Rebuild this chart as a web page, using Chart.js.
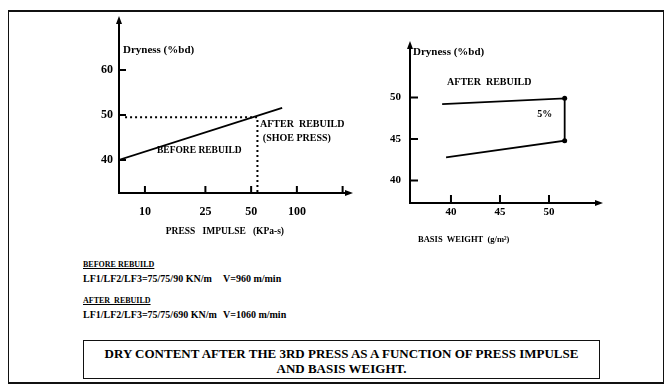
<!DOCTYPE html>
<html>
<head>
<meta charset="utf-8">
<script src="https://cdn.jsdelivr.net/npm/chart.js@4.4.0/dist/chart.umd.min.js"></script>
<style>
  body { margin:0; background:#fff; width:668px; height:391px; overflow:hidden; position:relative;
         font-family:"Liberation Serif", "DejaVu Serif", serif; font-weight:bold; color:#000; }
  #frame { position:absolute; left:8px; top:10px; width:656px; height:374px; box-sizing:border-box;
           border:1.5px solid #111; border-top-width:2px; border-bottom-width:2.5px; }
  #leftBox { position:absolute; left:0; top:0; width:370px; height:250px; }
  #rightBox { position:absolute; left:370px; top:0; width:298px; height:260px; }
  .note { position:absolute; left:83px; white-space:pre; }
  .hdr { font-size:8px; line-height:8px; text-decoration:underline; }
  .cond { font-size:10px; line-height:10px; }
  .speed { position:absolute; left:140px; }
  #caption { position:absolute; left:83px; top:340px; width:517px; height:39px; box-sizing:border-box;
             border:1.5px solid #111; padding-top:5px; text-align:center; font-size:13px; line-height:15px; }
</style>
</head>
<body>
<div id="frame"></div>
<div id="leftBox"><canvas id="leftChart" width="370" height="250"></canvas></div>
<div id="rightBox"><canvas id="rightChart" width="298" height="260"></canvas></div>

<div class="note hdr" style="top:261px">BEFORE REBUILD</div>
<div class="note cond" style="top:274px">LF1/LF2/LF3=75/75/90 KN/m<span class="speed">V=960 m/min</span></div>
<div class="note hdr" style="top:297px">AFTER  REBUILD</div>
<div class="note cond" style="top:310px">LF1/LF2/LF3=75/75/690 KN/m<span class="speed">V=1060 m/min</span></div>

<div id="caption">DRY CONTENT  AFTER  THE  3RD PRESS AS A FUNCTION OF  PRESS IMPULSE<br>AND  BASIS  WEIGHT.</div>

<script>
// Left chart: dryness against press impulse (log axis)
var impulseTicks = [10, 25, 50, 100, 200];
var impulseLabels = ['10', '25', '50', '100', ''];
var drynessTicksLeft = [40, 50, 60];
var lineImpulse = [6.75, 80];
var lineDryness = [40, 51.6];
var refImpulse = [7.4, 55, 55];
var refDryness = [49.5, 49.5, 32.7];

// Right chart: dryness against basis weight, after rebuild
var weightTicks = [40, 45, 50];
var drynessTicksRight = [40, 45, 50];
var basisWeight = [39.1, 51.6, 51.6, 39.5];
var drynessAfter = [49.2, 49.9, 44.8, 42.8];

var serif = '"Liberation Serif", "DejaVu Serif", serif';

function toPoints(xs, ys) {
  return xs.map(function(x, i) { return {x: x, y: ys[i]}; });
}

// Hand drawn look: ticks inside the axes, arrow heads, free text
var sketchPlugin = {
  id: 'sketch',
  afterDraw: function(chart, args, opts) {
    var ctx = chart.ctx, a = chart.chartArea;
    var xs = chart.scales.x, ys = chart.scales.y;
    ctx.save();
    ctx.strokeStyle = '#000';
    ctx.fillStyle = '#000';
    ctx.lineWidth = 2;
    ctx.beginPath();
    xs.ticks.forEach(function(t) {
      var px = xs.getPixelForValue(t.value);
      ctx.moveTo(px, a.bottom);
      ctx.lineTo(px, a.bottom - opts.tick);
    });
    ys.ticks.forEach(function(t) {
      var py = ys.getPixelForValue(t.value);
      ctx.moveTo(a.left, py);
      ctx.lineTo(a.left + opts.tick, py);
    });
    ctx.stroke();

    ctx.beginPath();
    ctx.moveTo(a.left, a.top - 4);
    ctx.lineTo(a.left - 3, a.top + 4);
    ctx.lineTo(a.left + 3, a.top + 4);
    ctx.closePath();
    ctx.moveTo(a.right + 5, a.bottom);
    ctx.lineTo(a.right - 3, a.bottom - 3);
    ctx.lineTo(a.right - 3, a.bottom + 3);
    ctx.closePath();
    ctx.fill();

    ctx.textBaseline = 'middle';
    opts.notes.forEach(function(n) {
      ctx.font = 'bold ' + n.size + 'px ' + serif;
      ctx.textAlign = n.align || 'left';
      ctx.fillText(n.text, xs.getPixelForValue(n.x), ys.getPixelForValue(n.y));
    });
    ctx.restore();
  }
};

function fixedTicks(values) {
  return function(scale) {
    scale.ticks = values.map(function(v) { return {value: v}; });
  };
}

function axisOptions(extra) {
  var base = {
    grid: { display: false, drawTicks: false },
    border: { display: true, color: '#000', width: 2 }
  };
  return Object.assign(base, extra);
}

new Chart(document.getElementById('leftChart'), {
  type: 'line',
  data: {
    datasets: [{
      data: toPoints(lineImpulse, lineDryness),
      borderColor: '#000', borderWidth: 1.8, pointRadius: 0
    }, {
      data: toPoints(refImpulse, refDryness),
      borderColor: '#000', borderWidth: 2, borderDash: [2, 3], pointRadius: 0
    }]
  },
  options: {
    responsive: false, animation: false, devicePixelRatio: 1,
    layout: { padding: { top: 20, right: 22, left: 0, bottom: 0 } },
    plugins: {
      legend: { display: false }, tooltip: { enabled: false },
      sketch: {
        tick: 7,
        notes: [
          { text: 'Dryness (%bd)', x: 7.17, y: 64.4, size: 11 },
          { text: 'AFTER  REBUILD', x: 57.2, y: 47.8, size: 10 },
          { text: '(SHOE PRESS)', x: 59.7, y: 44.9, size: 10 },
          { text: 'BEFORE REBUILD', x: 12.0, y: 42.0, size: 9.5 },
          { text: 'PRESS   IMPULSE   (KPa-s)', x: 33.6, y: 24.2, size: 9.5, align: 'center' }
        ]
      }
    },
    scales: {
      x: axisOptions({
        type: 'logarithmic', min: 6.75, max: 217,
        afterBuildTicks: fixedTicks(impulseTicks),
        afterFit: function(s) { s.height = 57; },
        ticks: { color: '#000', autoSkip: false, maxRotation: 0, padding: 12,
                 font: { family: serif, weight: 'bold', size: 12 },
                 callback: function(v, i) { return impulseLabels[i]; } }
      }),
      y: axisOptions({
        type: 'linear', min: 32.67, max: 71.1,
        afterBuildTicks: fixedTicks(drynessTicksLeft),
        afterFit: function(s) { s.width = 119; },
        ticks: { color: '#000', padding: 6, font: { family: serif, weight: 'bold', size: 12 } }
      })
    }
  },
  plugins: [sketchPlugin]
});

new Chart(document.getElementById('rightChart'), {
  type: 'line',
  data: {
    datasets: [{
      data: toPoints(basisWeight, drynessAfter),
      borderColor: '#000', borderWidth: 1.8,
      pointRadius: [0, 2.5, 2.5, 0], pointBackgroundColor: '#000', pointBorderWidth: 0
    }]
  },
  options: {
    responsive: false, animation: false, devicePixelRatio: 1,
    layout: { padding: { top: 45, right: 70, left: 0, bottom: 0 } },
    plugins: {
      legend: { display: false }, tooltip: { enabled: false },
      sketch: {
        tick: 8,
        notes: [
          { text: 'Dryness (%bd)', x: 36.13, y: 55.48, size: 11 },
          { text: 'AFTER  REBUILD', x: 39.6, y: 51.87, size: 10 },
          { text: '5%', x: 48.8, y: 48.0, size: 10 },
          { text: 'BASIS  WEIGHT  (g/m\u00b2)', x: 41.3, y: 32.83, size: 8.5, align: 'center' }
        ]
      }
    },
    scales: {
      x: axisOptions({
        type: 'linear', min: 35.82, max: 55.0,
        afterBuildTicks: fixedTicks(weightTicks),
        afterFit: function(s) { s.height = 57; },
        ticks: { color: '#000', autoSkip: false, maxRotation: 0, padding: 3,
                 font: { family: serif, weight: 'bold', size: 11 } }
      }),
      y: axisOptions({
        type: 'linear', min: 37.29, max: 56.33,
        afterBuildTicks: fixedTicks(drynessTicksRight),
        afterFit: function(s) { s.width = 40; },
        ticks: { color: '#000', padding: 9, font: { family: serif, weight: 'bold', size: 11 } }
      })
    }
  },
  plugins: [sketchPlugin]
});
</script>
</body>
</html>
